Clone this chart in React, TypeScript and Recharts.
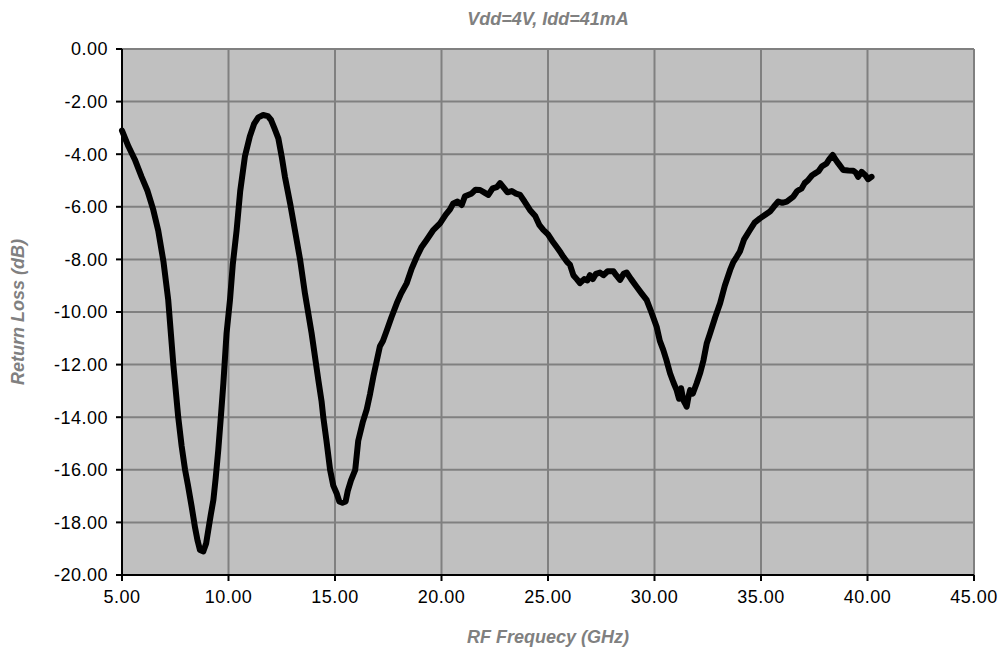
import { CartesianGrid, Line, LineChart, XAxis, YAxis } from "recharts";

const title = "Vdd=4V, Idd=41mA";
const xTitle = "RF Frequecy (GHz)";
const yTitle = "Return Loss (dB)";

const xTicks = [5, 10, 15, 20, 25, 30, 35, 40, 45];
const yTicks = [0, -2, -4, -6, -8, -10, -12, -14, -16, -18, -20];

// frequency (GHz)
const freq = [
  5.0, 5.3, 5.6, 5.92, 6.2, 6.47, 6.7, 6.95, 7.17, 7.41, 7.64, 7.8, 7.96, 8.1, 8.27, 8.43, 8.55, 8.66, 8.82, 8.95,
  9.05, 9.17, 9.29, 9.4, 9.52, 9.64, 9.76, 9.91, 10.07, 10.2, 10.38, 10.55, 10.77, 11.0, 11.2, 11.4, 11.63, 11.85,
  12.0, 12.15, 12.34, 12.5, 12.65, 12.9, 13.12, 13.36, 13.59, 13.9, 14.22, 14.37, 14.45, 14.6, 14.77, 14.92, 15.08,
  15.2, 15.35, 15.5, 15.6, 15.75, 15.95, 16.09, 16.3, 16.49, 16.65, 16.8, 16.95, 17.11, 17.25, 17.43, 17.65, 17.9,
  18.1, 18.37, 18.6, 18.84, 19.05, 19.3, 19.6, 19.93, 20.2, 20.4, 20.55, 20.75, 20.95, 21.1, 21.25, 21.42, 21.6,
  21.81, 22.0, 22.2, 22.4, 22.6, 22.75, 22.95, 23.1, 23.3, 23.5, 23.69, 23.9, 24.15, 24.4, 24.6, 24.78, 25.0, 25.2,
  25.4, 25.6, 25.72, 25.9, 26.03, 26.19, 26.35, 26.5, 26.7, 26.85, 26.97, 27.1, 27.25, 27.44, 27.6, 27.8, 28.07,
  28.2, 28.38, 28.55, 28.69, 28.9, 29.16, 29.4, 29.63, 29.85, 30.1, 30.25, 30.41, 30.55, 30.73, 30.9, 31.04, 31.15,
  31.25, 31.35, 31.45, 31.51, 31.6, 31.67, 31.8, 31.98, 32.15, 32.3, 32.45, 32.61, 32.85, 33.08, 33.3, 33.55, 33.7,
  33.86, 34.01, 34.2, 34.48, 34.7, 34.95, 35.2, 35.42, 35.6, 35.81, 36.0, 36.21, 36.52, 36.7, 36.91, 37.05, 37.22,
  37.4, 37.54, 37.7, 37.85, 38.08, 38.2, 38.37, 38.5, 38.63, 38.86, 39.1, 39.33, 39.45, 39.56, 39.72, 39.9, 40.03,
  40.19
];

// return loss (dB)
const returnLoss = [
  -3.1, -3.7, -4.2, -4.86, -5.4, -6.12, -6.9, -8.1, -9.54, -12.0, -14.0, -15.1, -16.0, -16.6, -17.4, -18.2, -18.7,
  -19.05, -19.1, -18.8, -18.3, -17.7, -17.15, -16.3, -15.25, -14.0, -12.7, -10.8, -9.54, -8.2, -6.9, -5.4, -4.09,
  -3.33, -2.85, -2.6, -2.51, -2.55, -2.7, -3.0, -3.4, -4.1, -4.86, -5.9, -6.9, -8.0, -9.3, -10.8, -12.6, -13.4,
  -14.0, -14.9, -16.0, -16.6, -16.9, -17.2, -17.25, -17.2, -16.8, -16.4, -16.0, -14.9, -14.2, -13.7, -13.1, -12.46,
  -11.9, -11.3, -11.1, -10.7, -10.2, -9.67, -9.3, -8.9, -8.35, -7.9, -7.55, -7.26, -6.9, -6.63, -6.3, -6.1, -5.87,
  -5.8, -5.93, -5.6, -5.55, -5.49, -5.35, -5.36, -5.45, -5.55, -5.3, -5.25, -5.1, -5.3, -5.45, -5.4, -5.5, -5.55,
  -5.8, -6.12, -6.35, -6.7, -6.88, -7.05, -7.3, -7.52, -7.75, -7.9, -8.1, -8.2, -8.6, -8.75, -8.9, -8.75, -8.8,
  -8.6, -8.75, -8.55, -8.5, -8.6, -8.45, -8.45, -8.6, -8.78, -8.55, -8.5, -8.75, -9.04, -9.3, -9.54, -10.0, -10.56,
  -11.1, -11.44, -11.8, -12.33, -12.7, -12.97, -13.3, -12.9, -13.35, -13.5, -13.6, -13.2, -12.97, -13.1, -12.71,
  -12.3, -11.83, -11.2, -10.81, -10.2, -9.67, -9.0, -8.4, -8.1, -7.9, -7.7, -7.25, -6.88, -6.6, -6.44, -6.3, -6.18,
  -6.0, -5.8, -5.85, -5.8, -5.61, -5.4, -5.3, -5.1, -4.98, -4.8, -4.73, -4.65, -4.47, -4.35, -4.2, -4.03, -4.2,
  -4.35, -4.6, -4.62, -4.63, -4.7, -4.86, -4.67, -4.8, -4.95, -4.86
];

const data = freq.map((f, i) => ({ f, rl: returnLoss[i] }));

const font = "'Liberation Sans', Arial, sans-serif";
const titleStyle = { fontFamily: font, fontSize: 18, fontWeight: 700, fontStyle: "italic", fill: "#808080" };
const tickStyle = { fontFamily: font, fontSize: 18, fill: "#000", letterSpacing: 0.5 };

export default function App() {
  return (
    <div style={{ position: "absolute", left: 0, top: 0, width: 1003, height: 648, background: "#fff" }}>
      <div
        style={{
          position: "absolute",
          left: 122,
          width: 852,
          top: 9,
          textAlign: "center",
          fontFamily: font,
          fontSize: 18,
          fontWeight: 700,
          fontStyle: "italic",
          color: "#808080"
        }}
      >
        {title}
      </div>
      <LineChart width={1003} height={648} data={data} margin={{ top: 49, right: 29, bottom: 0, left: 0 }}>
        <CartesianGrid fill="#C0C0C0" stroke="#808080" strokeWidth={2} />
        <XAxis
          dataKey="f"
          type="number"
          domain={[5, 45]}
          ticks={xTicks}
          height={73}
          tickFormatter={(v) => Number(v).toFixed(2)}
          tick={tickStyle}
          tickMargin={9}
          tickSize={6}
          axisLine={{ stroke: "#000", strokeWidth: 2 }}
          tickLine={{ stroke: "#000", strokeWidth: 2 }}
          label={{
            content: ({ viewBox }: any) => (
              <text x={viewBox.x + viewBox.width / 2} y={viewBox.y + 68} textAnchor="middle" style={titleStyle}>
                {xTitle}
              </text>
            )
          }}
        />
        <YAxis
          type="number"
          domain={[-20, 0]}
          ticks={yTicks}
          width={122}
          tickFormatter={(v) => Number(v).toFixed(2)}
          tick={tickStyle}
          tickMargin={8}
          tickSize={6}
          axisLine={{ stroke: "#000", strokeWidth: 2 }}
          tickLine={{ stroke: "#000", strokeWidth: 2 }}
          label={{
            content: ({ viewBox }: any) => {
              const cx = 18;
              const cy = viewBox.y + viewBox.height / 2;
              return (
                <text
                  x={cx}
                  y={cy}
                  transform={`rotate(-90 ${cx} ${cy})`}
                  textAnchor="middle"
                  dominantBaseline="central"
                  style={titleStyle}
                >
                  {yTitle}
                </text>
              );
            }
          }}
        />
        <Line
          type="linear"
          dataKey="rl"
          stroke="#000"
          strokeWidth={6}
          strokeLinejoin="round"
          strokeLinecap="round"
          dot={false}
          isAnimationActive={false}
        />
      </LineChart>
    </div>
  );
}
